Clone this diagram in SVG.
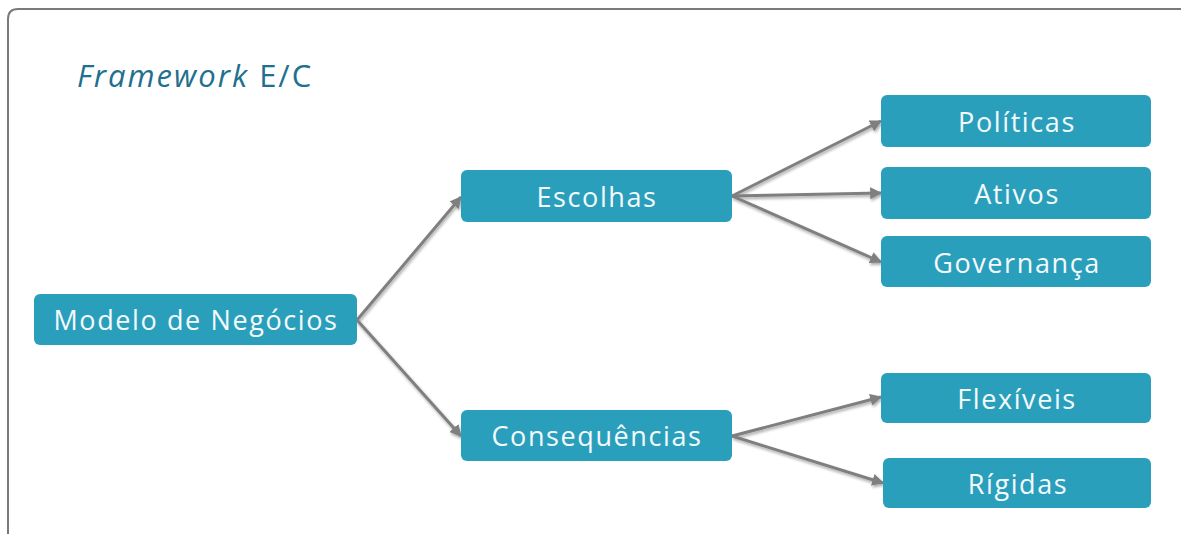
<svg xmlns="http://www.w3.org/2000/svg" width="1181" height="534" viewBox="0 0 1181 534">
<style>
.node rect{fill:#2A9FBC;}
.node text{fill:#F4FAFC;font-family:"Open Sans","Liberation Sans",sans-serif;font-size:27px;letter-spacing:1.6px;text-anchor:middle;}
.conn line{stroke:#7F7F7F;stroke-width:3;marker-end:url(#arr);}
</style>
<defs>
<marker id="arr" viewBox="0 0 10 10" refX="9" refY="5" markerWidth="4" markerHeight="4" orient="auto" markerUnits="strokeWidth">
<path d="M0,0 L10,5 L0,10 Z" fill="#7F7F7F"/>
</marker>
<filter id="sh" x="-20%" y="-20%" width="140%" height="140%">
<feGaussianBlur in="SourceAlpha" stdDeviation="1.5"/>
<feOffset dx="1" dy="2" result="b"/>
<feComponentTransfer><feFuncA type="linear" slope="0.35"/></feComponentTransfer>
<feMerge><feMergeNode/><feMergeNode in="SourceGraphic"/></feMerge>
</filter>
</defs>
<rect width="1181" height="534" fill="#FFFFFF"/>
<path d="M8,545 L8,19 Q8,9 18,9 L1195,9" fill="none" stroke="#7A7A7A" stroke-width="2"/>
<text x="77" y="87" font-family="'Open Sans','Liberation Sans',sans-serif" font-size="31" letter-spacing="2" fill="#1F6F8E"><tspan font-style="italic">Framework</tspan> E/C</text>
<g class="conn" filter="url(#sh)">
<line x1="357" y1="320" x2="461" y2="197"/>
<line x1="357" y1="320" x2="461" y2="436"/>
<line x1="732" y1="196" x2="881" y2="121"/>
<line x1="732" y1="196" x2="881" y2="193"/>
<line x1="732" y1="196" x2="881" y2="262"/>
<line x1="732" y1="436" x2="881" y2="397"/>
<line x1="732" y1="436" x2="883" y2="483"/>
</g>
<g id="modelo" class="node"><rect x="34" y="294" width="323" height="51" rx="6"/><text x="196" y="330">Modelo de Negócios</text></g>
<g id="escolhas" class="node"><rect x="461" y="170" width="271" height="52" rx="6"/><text x="597" y="207">Escolhas</text></g>
<g id="consequencias" class="node"><rect x="461" y="410" width="271" height="51" rx="6"/><text x="597" y="446">Consequências</text></g>
<g id="politicas" class="node"><rect x="881" y="95" width="270" height="52" rx="6"/><text x="1017" y="132">Políticas</text></g>
<g id="ativos" class="node"><rect x="881" y="167" width="270" height="52" rx="6"/><text x="1017" y="204">Ativos</text></g>
<g id="governanca" class="node"><rect x="881" y="236" width="270" height="51" rx="6"/><text x="1017" y="273">Governança</text></g>
<g id="flexiveis" class="node"><rect x="881" y="373" width="270" height="50" rx="6"/><text x="1017" y="409">Flexíveis</text></g>
<g id="rigidas" class="node"><rect x="883" y="458" width="268" height="50" rx="6"/><text x="1018" y="494">Rígidas</text></g>
</svg>
